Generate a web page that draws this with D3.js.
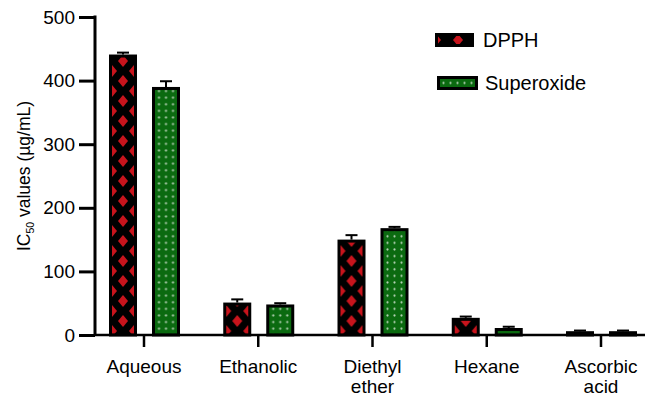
<!DOCTYPE html>
<html>
<head>
<meta charset="utf-8">
<script src="https://cdn.jsdelivr.net/npm/d3@7/dist/d3.min.js"></script>
<style>
  body { margin: 0; background: #fff; }
  svg { display: block; font-family: "Liberation Sans", Arial, Helvetica, sans-serif; }
</style>
</head>
<body>
<div class="chartHolder"></div>
<script>
var categories = [["Aqueous"], ["Ethanolic"], ["Diethyl", "ether"], ["Hexane"], ["Ascorbic", "acid"]];
var series = ["DPPH", "Superoxide"];
var dpph = [441, 51, 150, 27, 6];
var dpphErr = [3, 5, 7, 2, 1];
var superoxide = [390, 48, 168, 11, 6];
var superoxideErr = [9, 2, 2, 2, 1];
var yTicks = [0, 100, 200, 300, 400, 500];

var svgW = 645, svgH = 393;
var svg = d3.select(".chartHolder").append("svg").attr("width", svgW).attr("height", svgH);
var defs = svg.append("defs");

var names = categories.map(function (d) { return d.join(" "); });
var step = 114.25;
var xScale = d3.scaleBand().domain(names).range([144 - step / 2, 144 - step / 2 + step * names.length]);
var yScale = d3.scaleLinear().domain([0, 500]).range([335, 17]);
var axisX = 95;

// patterns: one per bar so each lines up with its own bar
function dpphPattern(id, cx, y0) {
  var p = defs.append("pattern").attr("id", id).attr("patternUnits", "userSpaceOnUse")
    .attr("width", 22).attr("height", 20).attr("x", cx - 11).attr("y", y0);
  p.append("rect").attr("width", 22).attr("height", 20).attr("fill", "#000");
  var pts = [[0, 0], [22, 0], [0, 20], [22, 20], [11, 10]];
  pts.forEach(function (c) {
    p.append("path").attr("fill", "#c8141c")
      .attr("d", "M" + c[0] + "," + (c[1] - 6) + "L" + (c[0] + 5) + "," + c[1] + "L" + c[0] + "," + (c[1] + 6) + "L" + (c[0] - 5) + "," + c[1] + "Z");
  });
}
function supPattern(id, x0, y0) {
  var p = defs.append("pattern").attr("id", id).attr("patternUnits", "userSpaceOnUse")
    .attr("width", 7).attr("height", 6.6).attr("x", x0).attr("y", y0);
  p.append("rect").attr("width", 7).attr("height", 6.6).attr("fill", "#0b6a10");
  p.append("circle").attr("cx", 3.5).attr("cy", 3.3).attr("r", 1.1).attr("fill", "#b4d0b4");
}

var bars = [];
names.forEach(function (n, i) {
  var c = xScale(n) + xScale.bandwidth() / 2;
  bars.push({ s: 0, i: i, x: c - 35, v: dpph[i], e: dpphErr[i] });
  bars.push({ s: 1, i: i, x: c + 8, v: superoxide[i], e: superoxideErr[i] });
});
bars.forEach(function (b, k) {
  b.id = "pat" + k;
  if (b.s === 0) dpphPattern(b.id, b.x + 14, yScale(0) - 4);
  else supPattern(b.id, b.x + 3.5, yScale(0) - 3);
});

// error bars
var err = svg.append("g").attr("stroke", "#000").attr("stroke-width", 2);
err.selectAll(".ev").data(bars).enter().append("line")
  .attr("x1", function (d) { return d.x + 14; }).attr("x2", function (d) { return d.x + 14; })
  .attr("y1", function (d) { return yScale(d.v); }).attr("y2", function (d) { return yScale(d.v + d.e); });
err.selectAll(".ec").data(bars).enter().append("line")
  .attr("x1", function (d) { return d.x + 8; }).attr("x2", function (d) { return d.x + 20; })
  .attr("y1", function (d) { return yScale(d.v + d.e); }).attr("y2", function (d) { return yScale(d.v + d.e); });

svg.selectAll(".bar").data(bars).enter().append("rect").attr("class", "bar")
  .attr("x", function (d) { return d.x + 1.5; })
  .attr("y", function (d) { return yScale(d.v) + 1.5; })
  .attr("width", 25)
  .attr("height", function (d) { return Math.max(0.5, yScale(0) - yScale(d.v) - 1.5); })
  .attr("fill", function (d) { return "url(#" + d.id + ")"; })
  .attr("stroke", "#000").attr("stroke-width", 3);

// x axis
var xAxis = d3.axisBottom(xScale).tickSize(12).tickSizeOuter(0).tickFormat("");
var gx = svg.append("g").attr("transform", "translate(0," + yScale(0) + ")").call(xAxis);
gx.select(".domain").remove();
gx.selectAll(".tick line").attr("stroke-width", 2.5);
gx.append("line").attr("x1", axisX).attr("x2", svgW).attr("stroke", "#000").attr("stroke-width", 2.5);
gx.selectAll(".tick").each(function (d, i) {
  var t = d3.select(this).append("text").attr("fill", "#000").attr("font-size", 19).attr("text-anchor", "middle");
  categories[i].forEach(function (line, j) {
    t.append("tspan").attr("x", 0).attr("y", 38 + j * 20).text(line);
  });
});

// y axis
var yAxis = d3.axisLeft(yScale).tickValues(yTicks).tickSize(16).tickPadding(4).tickSizeOuter(0);
var gy = svg.append("g").attr("transform", "translate(" + axisX + ",0)").call(yAxis);
gy.select(".domain").attr("stroke-width", 3).attr("d", "M0," + yScale(0) + "V" + (yScale(500) - 1.5));
gy.selectAll(".tick line").attr("stroke-width", 3);
gy.selectAll(".tick text").attr("font-size", 19).attr("fill", "#000").attr("font-family", "Liberation Sans, Arial, sans-serif");

var title = svg.append("text").attr("transform", "translate(30,176) rotate(-90)")
  .attr("text-anchor", "middle").attr("font-size", 17.5).attr("fill", "#000");
title.append("tspan").text("IC");
title.append("tspan").attr("font-size", 10.5).attr("dy", 4).text("50");
title.append("tspan").attr("dy", -4).text(" values (\u00b5g/mL)");

// legend
var legend = [
  { label: series[0], x: 435, y: 33, w: 39, h: 14, id: "legA" },
  { label: series[1], x: 437, y: 76, w: 41, h: 14, id: "legB" }
];
dpphPattern("legA", 435 + 23, 33 + 7 - 10);
supPattern("legB", 437 + 3, 76 + 7 - 3.3);
svg.selectAll(".leg").data(legend).enter().append("rect")
  .attr("x", function (d) { return d.x + 1.5; }).attr("y", function (d) { return d.y + 1.5; })
  .attr("width", function (d) { return d.w - 3; }).attr("height", function (d) { return d.h - 3; })
  .attr("fill", function (d) { return "url(#" + d.id + ")"; })
  .attr("stroke", "#000").attr("stroke-width", 3);
svg.selectAll(".legt").data(legend).enter().append("text")
  .attr("x", function (d) { return d.x + 48; }).attr("y", function (d) { return d.y + 14; })
  .attr("font-size", 20).attr("fill", "#000").text(function (d) { return d.label; });
</script>
</body>
</html>
